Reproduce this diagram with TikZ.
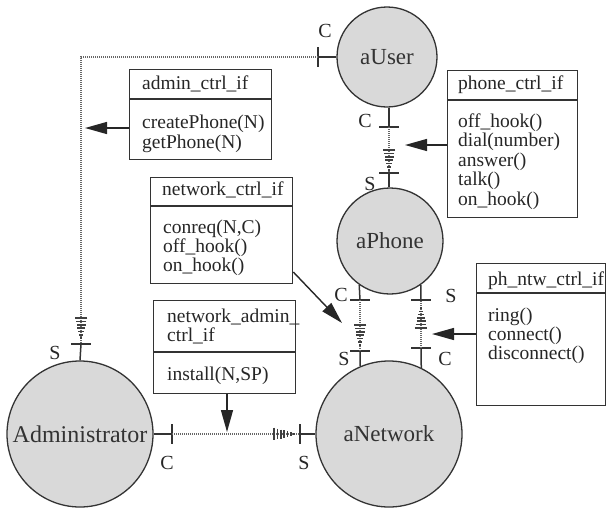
\documentclass[tikz,border=0pt]{standalone}
\usepackage{fontspec}
\setmainfont{Liberation Serif}
\usetikzlibrary{arrows.meta,calc}
\begin{document}
\begin{tikzpicture}[x=1pt,y=-1pt,
  obj/.style={circle,draw=black!80,line width=1.3pt,fill=black!15,inner sep=0pt,text=black!80,font=\fontsize{23}{23}\selectfont},
  ifbox/.style={draw=black!80,line width=1.3pt,rectangle,inner sep=0pt,anchor=north west},
  itxt/.style={anchor=base west,inner sep=0pt,text=black!85,font=\fontsize{19.5}{20}\selectfont},
  port/.style={line width=1.5pt,draw=black!80},
  plab/.style={inner sep=0pt,text=black!85,font=\fontsize{20}{20}\selectfont},
  dotl/.style={draw=black!60,line width=1.2pt,dash pattern=on 1pt off 1pt},
  callarr/.style={draw=black!85,line width=1.4pt,-{Triangle[length=22pt,width=12pt]}},
  stripetip/.pic={\foreach \k in {0,...,6}{\draw[line width=1.6pt,black!75] ({-\k*3.3},{-(\k+1)*0.9}) -- ({-\k*3.3},{(\k+1)*0.9});}},
  vbar/.pic={\draw[port] (0,-10) -- (0,10);},
  hbar/.pic={\draw[port] (-10,0) -- (10,0);}
]
\path[use as bounding box] (0,0) rectangle (608,507);

% objects
\node[obj,minimum size=100pt] (user) at (387,57) {aUser};
\node[obj,minimum size=106pt] (phone) at (390,241) {aPhone};
\node[obj,minimum size=146pt] (net) at (389,434) {aNetwork};
\node[obj,minimum size=146pt,font=\fontsize{24}{24}\selectfont] (admin) at (80,434) {Administrator};

% port positions
\coordinate (uW) at (318,57);
\coordinate (uS) at (389,127);
\coordinate (pN) at (389,173);
\coordinate (pC) at (360,300);
\coordinate (pS) at (421,300);
\coordinate (nS) at (360,351);
\coordinate (nC) at (421,348);
\coordinate (nW) at (300,434);
\coordinate (aE) at (172,434);
\coordinate (aN) at (81,344);

% stubs and bars
\draw[port] (user.west) -- (uW); \pic at (uW) {vbar};
\draw[port] (uS |- user.south) -- (uS); \pic at (uS) {hbar};
\draw[port] (pN) -- (pN |- phone.north); \pic at (pN) {hbar};
\draw[port] (phone.235) -- (pC); \pic at (pC) {hbar};
\draw[port] (phone.-55) -- (pS); \pic at (pS) {hbar};
\draw[port] (nS) -- (net.113); \pic at (nS) {hbar};
\draw[port] (nC) -- (net.64); \pic at (nC) {hbar};
\draw[port] (nW) -- (net.west); \pic at (nW) {vbar};
\draw[port] (admin.east) -- (aE); \pic at (aE) {vbar};
\draw[port] (aN) -- (admin.north); \pic at (aN) {hbar};

% port labels
\node[plab] (lu1) at (325,31) {C};
\node[plab] (lu2) at (365,121) {C};
\node[plab] (lp1) at (370,184) {S};
\node[plab] (lp2) at (341,295) {C};
\node[plab] (lp3) at (451,296) {S};
\node[plab] (ln1) at (344,359) {S};
\node[plab] (ln2) at (445,359) {C};
\node[plab] (ln3) at (304,463) {S};
\node[plab] (la1) at (167,463) {C};
\node[plab] (la2) at (55,353) {S};

% dotted connectors with striped tips
\draw[dotl] (uW) -| (aN);
\pic[rotate=-90] at (81,338) {stripetip};
\draw[dotl] (uS) -- (pN);
\pic[rotate=-90] at (389,170) {stripetip};
\draw[dotl] (pC) -- (nS);
\pic[rotate=-90] at (360,345) {stripetip};
\draw[dotl] (nC) -- (pS);
\pic[rotate=90] at (421,308) {stripetip};
\draw[dotl] (aE) -- (nW);
\pic at (294,434) {stripetip};

% interface boxes
\node[ifbox,minimum width=142pt,minimum height=90pt] (adm) at (129,69) {};
\draw[ifbox] ($(adm.north west)+(0,30)$) -- ($(adm.north east)+(0,30)$);
\node[itxt] (adm0) at (142,89) {admin\_ctrl\_if};
\node[itxt] (adm1) at (142,128) {createPhone(N)};
\node[itxt] (adm2) at (142,148) {getPhone(N)};

\node[ifbox,minimum width=130pt,minimum height=147pt] (pho) at (447,70) {};
\draw[ifbox] ($(pho.north west)+(0,30)$) -- ($(pho.north east)+(0,30)$);
\node[itxt] (pho0) at (458,89) {phone\_ctrl\_if};
\node[itxt] (pho1) at (458,127) {off\_hook()};
\node[itxt] (pho2) at (458,146.5) {dial(number)};
\node[itxt] (pho3) at (458,166) {answer()};
\node[itxt] (pho4) at (458,185.5) {talk()};
\node[itxt] (pho5) at (458,205) {on\_hook()};

\node[ifbox,minimum width=142pt,minimum height=106pt] (nct) at (150,177) {};
\draw[ifbox] ($(nct.north west)+(0,29)$) -- ($(nct.north east)+(0,29)$);
\node[itxt] (nct0) at (162,195) {network\_ctrl\_if};
\node[itxt] (nct1) at (163,233) {conreq(N,C)};
\node[itxt] (nct2) at (163,252) {off\_hook()};
\node[itxt] (nct3) at (163,271) {on\_hook()};

\node[ifbox,minimum width=142pt,minimum height=93pt] (nad) at (153,300) {};
\draw[ifbox] ($(nad.north west)+(0,52)$) -- ($(nad.north east)+(0,52)$);
\node[itxt] (nad0) at (167,322) {network\_admin\_};
\node[itxt] (nad1) at (167,341) {ctrl\_if};
\node[itxt] (nad2) at (167,380) {install(N,SP)};

\node[ifbox,minimum width=129pt,minimum height=142pt] (pnt) at (476,263) {};
\draw[ifbox] ($(pnt.north west)+(0,30)$) -- ($(pnt.north east)+(0,30)$);
\node[itxt] (pnt0) at (488,285) {ph\_ntw\_ctrl\_if};
\node[itxt] (pnt1) at (488,321) {ring()};
\node[itxt] (pnt2) at (488,340) {connect()};
\node[itxt] (pnt3) at (488,359) {disconnect()};

% call arrows
\coordinate (tAdm) at (85,128);
\coordinate (tPho) at (405,145);
\coordinate (tNct) at (342,323);
\coordinate (tNad) at (227,432);
\coordinate (tPnt) at (432,334);
\draw[callarr] ($(adm.north west)+(0,59)$) -- (tAdm);
\draw[callarr] ($(pho.north west)+(0,75)$) -- (tPho);
\draw[callarr] ($(nct.north east)+(0,95)$) -- (tNct);
\draw[callarr] ($(nad.south west)+(74,0)$) -- (tNad);
\draw[callarr] ($(pnt.north west)+(0,71)$) -- (tPnt);
\end{tikzpicture}
\end{document}
